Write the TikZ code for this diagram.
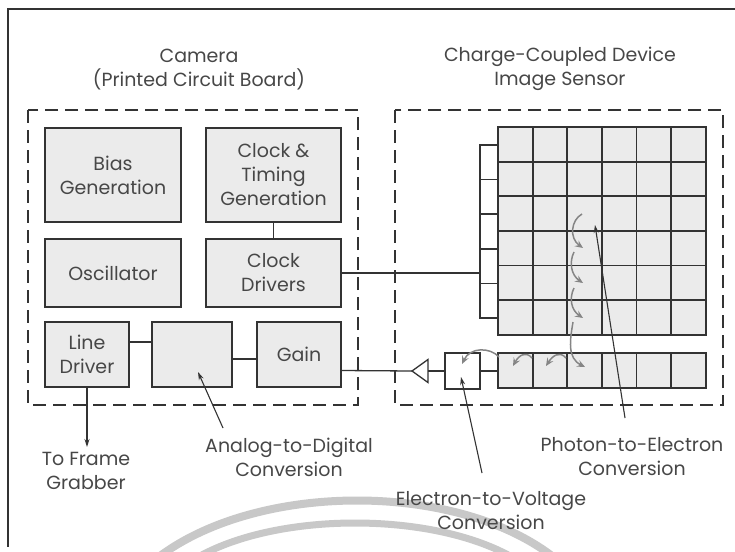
\documentclass[tikz,border=0pt]{standalone}
\usepackage{fontspec}
\setmainfont{Poppins}
\usetikzlibrary{arrows.meta}
\definecolor{txt}{HTML}{474747}
\definecolor{ln}{HTML}{333333}
\definecolor{bfill}{HTML}{EBEBEB}
\definecolor{arr}{HTML}{858585}
\definecolor{wm}{HTML}{C8C8C8}
\tikzset{
  lab/.style={align=center,text=txt,font=\fontsize{19}{24}\selectfont,inner sep=0pt},
  blk/.style={lab,draw=ln,fill=bfill,line width=1.5pt,minimum height=#1},
  cellbox/.style={draw=ln,line width=1.8pt,minimum width=34.6pt,minimum height=34.6pt,inner sep=0pt},
  regbox/.style={draw=ln,fill=white,line width=1.5pt,minimum width=18pt,minimum height=34.6pt,inner sep=0pt},
  dbox/.style={draw=ln,line width=1.4pt,dash pattern=on 13pt off 7pt},
  wire/.style={draw=ln,line width=1.3pt},
  ptr/.style={draw=ln,line width=1.1pt,-{Stealth[length=8pt,width=5pt]}},
  garr/.style={draw=arr,line width=1.5pt,-{Stealth[length=8pt,width=7pt,inset=3pt]}},
}
\begin{document}
\begin{tikzpicture}[x=1pt,y=-1pt]
\useasboundingbox (0,0) rectangle (735,551);
\fill[white] (0,0) rectangle (735,551);
% watermark arcs
\begin{scope}
\clip (0,0) rectangle (735,551);
\draw[wm,line width=8pt] (160,556) .. controls (260,482) and (455,482) .. (552,556);
\draw[wm,line width=7pt] (200,556) .. controls (280,512) and (430,512) .. (510,556);
\end{scope}
% outer frame
\draw[ln,line width=1.5pt] (735,9) -- (8,9) -- (8,547);
% dashed enclosures
\draw[dbox] (28,110) rectangle (358,405);
\draw[dbox] (395,110) rectangle (723,405);
% titles
\node[lab] (cam) at (199,69.5) {Camera\\(Printed Circuit Board)};
\node[lab] (ccd) at (560,68.5) {Charge-Coupled Device\\Image Sensor};
% camera blocks
\node[blk=94pt,minimum width=136pt] (bias) at (113,175) {Bias\\Generation};
\node[blk=94pt,minimum width=135pt] (ctg) at (273.5,175) {Clock \&\\Timing\\Generation};
\node[blk=68pt,minimum width=136pt] (osc) at (113,273) {Oscillator};
\node[blk=68pt,minimum width=135pt] (cd) at (273.5,273) {Clock\\Drivers};
\node[blk=65pt,minimum width=84pt] (ld) at (87,354.5) {Line\\Driver};
\node[blk=65pt,minimum width=80pt] (adc) at (192,354.5) {};
\node[blk=65pt,minimum width=84pt] (gain) at (299,354.5) {Gain};
% CCD grid
\fill[bfill] (498,127) rectangle (705.6,334.6);
\fill[bfill] (498,353) rectangle (705.6,387.6);
\foreach \r in {1,...,6}{
  \foreach \c in {1,...,6}{
    \node[cellbox] (g-\r-\c) at ({498+34.6*(\c-0.5)},{127+34.6*(\r-0.5)}) {};
  }
}
\foreach \c in {1,...,6}{
  \node[cellbox] (h-\c) at ({498+34.6*(\c-0.5)},370.3) {};
}
\foreach \r in {1,...,5}{
  \node[regbox] (v-\r) at (489,{145+34.6*(\r-0.5)}) {};
}
\node[draw=ln,fill=white,line width=1.5pt,minimum width=35pt,minimum height=36pt,inner sep=0pt] (ev) at (462.5,371) {};
% amplifier
\coordinate (amptip) at (412,371);
\coordinate (ampbase) at (428,371);
\draw[ln,line width=1.3pt,fill=white] (amptip) -- (428,359.5) -- (428,382.5) -- cycle;
% wires
\draw[wire] (ctg.south) -- (cd.north);
\draw[wire] (cd.east) -- (cd.east -| v-4.west);
\draw[wire] ([yshift=12.5pt]ld.east) -- ([yshift=12.5pt]ld.east -| adc.west);
\draw[wire] ([yshift=-4.5pt]adc.east) -- ([yshift=-4.5pt]adc.east -| gain.west);
\draw[wire] ([yshift=-16pt]gain.east) -- (amptip);
\draw[wire] (ampbase) -- (ev.west);
\draw[wire] (ev.east) -- (ev.east -| h-1.west);
% charge transfer arrows
\draw[garr] (582,214) .. controls (571,220) and (569,238) .. (583,248);
\draw[garr] (574,252) .. controls (569,262) and (571,275) .. (583,283);
\draw[garr] (574,288) .. controls (569,298) and (571,310) .. (583,318);
\draw[garr] (573,322) .. controls (570,340) and (567,358) .. (585,367);
\draw[garr] (566,358) .. controls (560,351) and (553,355) .. (546,366);
\draw[garr] (532,358) .. controls (526,351) and (519,355) .. (513,366);
\draw[garr] (499,357) .. controls (490,347) and (470,347) .. (462,364);
% labels
\node[lab] (fg) at (86,471) {To Frame\\Grabber};
\node[lab] (adcl) at (289,457) {Analog-to-Digital\\Conversion};
\node[lab] (pel) at (632,457) {Photon-to-Electron\\Conversion};
\node[lab] (evl) at (491,510.5) {Electron-to-Voltage\\Conversion};
\coordinate (fgtip) at (87,447);
\coordinate (adct) at (223,428);
\coordinate (adch) at (198,372);
\coordinate (pet) at (625,418);
\coordinate (peh) at (595,225);
\coordinate (evt) at (482,473);
\coordinate (evh) at (461,377);
\draw[ptr] (ld.south) -- (fgtip);
\draw[ptr] (adct) -- (adch);
\draw[ptr] (pet) -- (peh);
\draw[ptr] (evt) -- (evh);
\end{tikzpicture}
\end{document}
